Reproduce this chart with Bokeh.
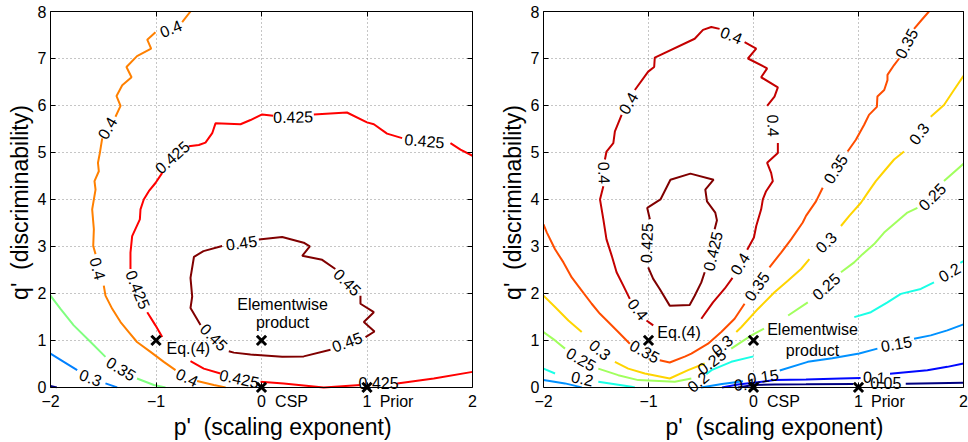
import math
from bokeh.plotting import figure
from bokeh.layouts import row
from bokeh.models import Range1d, LinearAxis, FixedTicker, Label
from bokeh.embed import file_html
from bokeh.resources import INLINE
from bokeh.core.properties import value

nan = float("nan")
FONT = "Liberation Sans"
NB = "\u00a0"

x_ticks = [-2, -1, 0, 1, 2]
y_ticks = [0, 1, 2, 3, 4, 5, 6, 7, 8]
# tick labels, plus the two names written beside ticks 0 and 1
x_label_pos = [-2, -1, 0, 0.285, 1, 1.28, 2]
x_label_text = {-2: "\u22122", -1: "\u22121", 0: "0", 0.285: "CSP", 1: "1", 1.28: "Prior", 2: "2"}
# axis titles
x_title_pos = 0.2
x_title = "p'" + NB + " (scaling exponent)"
y_title_span = (0.78, 8.0)   # title is centred on this span (q' = 4.39)
y_title = "q'" + NB + " (discriminability)"

# ---------------- left panel contours (NaN = gap for label / hidden part) -------------
L_045_x = [-0.025, 0.196, 0.40, 0.458, 0.386, 0.575, 0.70, nan, 0.938, 0.938, 1.065, 0.97, 1.071, 0.986, nan,
           0.654, 0.40, 0.196, -0.104, -0.262, -0.31, nan, -0.578, -0.673, -0.657, -0.673, -0.64, -0.55, -0.373]
L_045_y = [3.15, 3.20, 3.08, 3.0, 2.80, 2.715, 2.52, nan, 1.953, 1.78, 1.60, 1.39, 1.19, 1.07, nan,
           0.80, 0.66, 0.65, 0.70, 0.74, 0.77, nan, 1.33, 1.69, 1.93, 2.33, 2.78, 2.90, 3.01]

L_0425_x = [2.0, 1.886, 1.791, nan, 1.333, 1.19, 1.065, 1.0, 0.81, 0.496, nan, 0.11, 0.006, -0.104, -0.199,
            -0.436, -0.467, -0.531, -0.594, -0.689, nan, -0.941, -1.005, -1.068, -1.116, -1.147, -1.153, -1.226,
            -1.242, -1.242, nan, -1.083, -1.005, -0.941, nan, -0.673, -0.547, -0.389, nan, -0.009, 0.21, 0.59,
            0.938, nan, 1.286, 1.633, 2.0]
L_0425_y = [4.93, 5.06, 5.2, nan, 5.305, 5.40, 5.60, 5.64, 5.85, 5.81, nan, 5.78, 5.81, 5.69, 5.60,
            5.62, 5.41, 5.21, 5.16, 5.13, nan, 4.565, 4.35, 4.175, 4.0, 3.79, 3.577, 3.22,
            2.87, 2.52, nan, 1.60, 1.32, 1.07, nan, 0.557, 0.40, 0.296, nan, 0.12, 0.085, 0.0,
            0.05, nan, 0.085, 0.19, 0.33]

L_040_x = [-0.673, -0.752, nan, -1.005, -1.083, -1.046, -1.18, -1.28, -1.232, -1.32, -1.374, -1.336, -1.384, nan,
           -1.51, -1.532, -1.55, -1.542, -1.583, -1.573, -1.605, -1.589, -1.595, -1.573, nan, -1.495, -1.479,
           -1.415, -1.336, -1.258, -1.18, -1.052, -0.926, -0.815, nan, -0.61, -0.452, -0.34]
L_040_y = [8.0, 7.775, nan, 7.56, 7.40, 7.21, 7.05, 6.82, 6.60, 6.43, 6.20, 5.99, 5.76, nan,
           5.30, 4.99, 4.78, 4.60, 4.39, 4.21, 3.79, 3.365, 3.01, 2.836, nan, 2.165, 1.953,
           1.672, 1.39, 1.178, 0.966, 0.755, 0.544, 0.367, nan, 0.134, 0.05, 0.0]

L_035_x = [-2.0, -1.905, -1.78, -1.62, -1.479, nan, -1.18, -1.02, -0.91]
L_035_y = [1.953, 1.67, 1.32, 0.966, 0.65, nan, 0.19, 0.05, 0.0]

L_030_x = [-2.0, -1.874, -1.747, nan, -1.479, -1.368]
L_030_y = [0.72, 0.544, 0.367, nan, 0.085, 0.0]

L_025_x = [-2.0, -1.94]
L_025_y = [0.03, 0.0]

left_levels = [
    (L_045_x, L_045_y, "#800000"),
    (L_0425_x, L_0425_y, "#FF0000"),
    (L_040_x, L_040_y, "#FF8000"),
    (L_035_x, L_035_y, "#80FF80"),
    (L_030_x, L_030_y, "#0080FF"),
    (L_025_x, L_025_y, "#000080"),
]

left_lab_text = ["0.4", "0.4", "0.4", "0.4", "0.35", "0.3", "0.425", "0.425", "0.425", "0.425", "0.425",
                 "0.425", "0.45", "0.45", "0.45", "0.45"]
left_lab_x = [-0.86, -1.463, -1.55, -0.704, -1.33, -1.62, -0.847, 0.30, 1.545, -1.17, -0.21, 1.11, -0.19,
              0.815, 0.81, -0.45]
left_lab_y = [7.64, 5.52, 2.53, 0.215, 0.40, 0.21, 4.90, 5.76, 5.25, 2.08, 0.19, 0.085, 3.08, 2.24, 0.97, 1.07]
left_lab_angle = [22, 60, -75, -25, -32, -20, 42, 1, -5, -68, -12, 0, 8, -45, 20, -45]

# ---------------- right panel contours -------------
R_0425_x = [-0.987, -1.012, -0.886, -0.791, -0.601, -0.38, -0.459, -0.443, -0.364, -0.348, -0.37, nan,
            -0.465, -0.497, -0.56, -0.608, -0.798, -0.893, -0.955, -1.003]
R_0425_y = [3.577, 3.82, 4.0, 4.42, 4.55, 4.42, 4.21, 3.96, 3.72, 3.555, 3.365, nan,
            2.45, 2.235, 1.95, 1.755, 1.74, 2.095, 2.31, 2.555]

R_040_x = [-0.955, -1.019, nan, -1.178, -1.24, -1.304, -1.35, -1.40, -1.43, -1.462, -1.43, nan, -1.415, -1.40,
           -1.335, -1.32, -1.256, nan, -1.13, -1.003, -0.946, -0.94, -0.56, -0.481, -0.402, -0.323, nan,
           -0.085, 0.026, -0.053, 0.13, 0.073, 0.232, 0.20, 0.13, nan, 0.232, 0.232, 0.13, 0.168, 0.184, 0.12,
           0.089, 0.073, 0.026, 0.004, -0.06, nan, -0.20, -0.275, -0.386, -0.497]
R_040_y = [1.32, 1.425, nan, 1.884, 2.165, 2.45, 2.80, 3.15, 3.577, 4.0, 4.28, nan, 4.85, 5.02,
           5.20, 5.45, 5.80, nan, 6.33, 6.72, 6.82, 7.02, 7.42, 7.61, 7.67, 7.63, nan,
           7.35, 7.21, 7.0, 6.79, 6.60, 6.385, 6.19, 5.99, nan, 5.2, 4.99, 4.78, 4.565, 4.39, 4.175,
           4.0, 3.79, 3.435, 3.19, 2.93, nan, 2.33, 2.10, 1.81, 1.46]

R_035_x = [-2.0, -1.969, -1.89, -1.81, -1.731, -1.636, -1.541, -1.462, -1.383, -1.288, -1.178, nan, -0.893,
           -0.798, -0.649, -0.592, -0.433, -0.307, -0.18, -0.085, nan, 0.152, 0.263, 0.358, 0.469, 0.50, 0.595,
           0.659, nan, 0.896, 0.975, 1.054, 1.10, 1.175, 1.18, 1.245, 1.276, 1.276, 1.339, 1.387, nan, 1.529,
           1.609, 1.671]
R_035_y = [3.47, 3.30, 2.94, 2.66, 2.34, 2.06, 1.78, 1.566, 1.39, 1.178, 0.93, nan, 0.578,
           0.53, 0.66, 0.72, 0.93, 1.178, 1.46, 1.78, nan, 2.555, 2.87, 3.15, 3.51, 3.65, 3.96,
           4.25, nan, 5.02, 5.27, 5.59, 5.80, 5.97, 6.19, 6.33, 6.54, 6.65, 6.86, 7.0, nan, 7.63,
           7.84, 8.0]

R_030_x = [-2.0, -1.89, -1.763, -1.636, nan, -1.32, -1.193, -1.035, -0.798, -0.623, -0.465, nan, -0.164,
           -0.117, 0.042, 0.20, 0.327, 0.453, 0.532, nan, 0.833, 0.912, 1.023, 1.087, 1.165, 1.244, 1.339,
           1.434, nan, 1.688, 1.814, 1.909, 2.0]
R_030_y = [1.953, 1.71, 1.425, 1.178, nan, 0.544, 0.40, 0.296, 0.19, 0.367, 0.508, nan, 1.178,
           1.28, 1.67, 2.025, 2.27, 2.52, 2.73, nan, 3.435, 3.65, 3.93, 4.14, 4.39, 4.60, 4.85,
           5.02, nan, 5.76, 6.01, 6.33, 6.63]

R_025_x = [-2.0, -1.89, -1.795, nan, -1.478, -1.288, -1.098, -0.75, -0.592, nan, -0.212, -0.02, 0.10, nan,
           0.33, 0.517, nan, 0.833, 0.959, 1.039, 1.149, 1.244, 1.355, 1.466, 1.561, nan, 1.814, 2.0]
R_025_y = [1.178, 1.0, 0.825, nan, 0.40, 0.26, 0.155, 0.12, 0.19, nan, 0.825, 1.107, 1.25, nan,
           1.53, 1.81, nan, 2.45, 2.66, 2.836, 3.05, 3.295, 3.51, 3.72, 3.82, nan, 4.39, 4.76]

R_020_x = [-2.0, -1.89, nan, -1.478, -1.161, -1.13, nan, -0.45, -0.40, -0.212, 0.0, nan, 0.96, 1.118, 1.276,
           1.403, 1.593, 1.719, nan, 1.97, 2.0]
R_020_y = [0.40, 0.296, nan, 0.12, 0.015, 0.0, nan, 0.28, 0.367, 0.544, 0.66, nan, 1.496, 1.60, 1.81,
           1.99, 2.095, 2.235, nan, 2.65, 2.69]

R_015_x = [-2.0, -1.795, -1.636, nan, -0.50, -0.30, -0.10, nan, 0.25, 0.517, 0.75, 1.007, 1.18, nan, 1.529,
           1.688, 1.846, 2.0]
R_015_y = [0.155, 0.085, 0.0, nan, 0.0, 0.07, 0.13, nan, 0.36, 0.544, 0.62, 0.72, 0.825, nan, 1.037,
           1.107, 1.213, 1.34]

R_010_x = [-0.30, -0.15, 0.0, 0.2, 0.5, 0.833, 1.02, nan, 1.30, 1.656, 1.846, 2.0]
R_010_y = [0.0, 0.06, 0.10, 0.155, 0.17, 0.19, 0.20, nan, 0.29, 0.367, 0.437, 0.51]

R_005_x = [-0.15, 0.0, 0.2, 0.5, 0.95, nan, 1.45, 2.0]
R_005_y = [0.0, 0.05, 0.063, 0.065, 0.07, nan, 0.075, 0.10]

right_levels = [
    (R_0425_x, R_0425_y, "#800000"),
    (R_040_x, R_040_y, "#C40000"),
    (R_035_x, R_035_y, "#FF4D00"),
    (R_030_x, R_030_y, "#FFD400"),
    (R_025_x, R_025_y, "#A1FF5E"),
    (R_020_x, R_020_y, "#1AFFE6"),
    (R_015_x, R_015_y, "#0091FF"),
    (R_010_x, R_010_y, "#0008FF"),
    (R_005_x, R_005_y, "#000080"),
]

right_lab_text = ["0.4", "0.4", "0.4", "0.4", "0.4", "0.4", "0.425", "0.425", "0.35", "0.35", "0.35", "0.35",
                  "0.3", "0.3", "0.3", "0.3", "0.25", "0.25", "0.25", "0.25", "0.2", "0.2", "0.2",
                  "0.15", "0.15", "0.1", "0.05", "0.1"]
right_lab_x = [-0.21, -1.193, -1.42, -1.10, 0.19, -0.13, -1.02, -0.39, -1.035, 0.03, 0.78, 1.455,
               -1.46, -0.30, 0.69, 1.575, -1.64, -0.40, 0.69, 1.70, -1.63, -0.53, 1.865,
               0.09, 1.36, 1.15, 1.26, -0.08]
right_lab_y = [7.50, 6.05, 4.565, 1.66, 5.57, 2.63, 3.07, 2.90, 0.77, 2.15, 4.65, 7.32,
               0.80, 0.90, 3.09, 5.40, 0.60, 0.55, 2.15, 4.06, 0.19, 0.12, 2.45,
               0.23, 0.93, 0.22, 0.09, 0.07]
right_lab_angle = [-22, 60, -88, -52, -88, 58, 88, 77, -29, 55, 58, 63,
                   -40, 40, 45, 53, -30, 37, 42, 45, -12, 40, 30,
                   8, 10, -3, 0, 3]

# markers (Eq.(4), Elementwise product, CSP, Prior)
mark_x = [-1, 0, 0, 1]
mark_y = [1, 1, 0, 0]

# annotation positions
left_eq = (-0.90, 0.825)
left_elem = (0.20, 1.756, 1.376)
right_eq = (-0.917, 1.175)
right_elem = (0.562, 1.228, 0.79)

Y_LOW = -0.13   # small strip below q'=0 so the markers on the axis are not cut


def make_panel(levels, lab_x, lab_y, lab_text, lab_angle, eq, elem, width, border_left, border_right):
    p = figure(width=width, height=442, output_backend="svg", toolbar_location=None,
               x_range=Range1d(-2, 2), y_range=Range1d(Y_LOW, 8),
               min_border_left=border_left, min_border_right=border_right, min_border_top=11,
               min_border_bottom=47,
               background_fill_color="white", border_fill_color="white")
    p.outline_line_color = None

    # bottom axis line + inward ticks at q' = 0
    xa = p.xaxis[0]
    xa.ticker = FixedTicker(ticks=x_ticks)
    xa.fixed_location = 0
    xa.major_tick_in = 5
    xa.major_tick_out = 0
    xa.minor_tick_line_color = None
    xa.axis_line_color = "black"
    xa.major_tick_line_color = "black"
    xa.major_label_text_font_size = "0px"
    xa.major_label_standoff = 0

    # tick labels (incl. CSP / Prior)
    xl = LinearAxis(ticker=FixedTicker(ticks=x_label_pos), major_label_overrides=x_label_text,
                    axis_line_color=None, major_tick_line_color=None, minor_tick_line_color=None,
                    major_tick_in=0, major_tick_out=0, major_label_standoff=-1,
                    major_label_text_font=FONT, major_label_text_font_size="16px",
                    major_label_text_color="black")
    p.add_layout(xl, "below")
    # x title
    xt = LinearAxis(ticker=FixedTicker(ticks=[x_title_pos]), major_label_overrides={x_title_pos: x_title},
                    axis_line_color=None, major_tick_line_color=None, minor_tick_line_color=None,
                    major_tick_in=0, major_tick_out=0, major_label_standoff=1,
                    major_label_text_font=FONT, major_label_text_font_size="23px",
                    major_label_text_color="black")
    p.add_layout(xt, "below")

    ya = p.yaxis[0]
    ya.ticker = FixedTicker(ticks=y_ticks)
    ya.bounds = (0, 8)
    ya.major_tick_in = 5
    ya.major_tick_out = 0
    ya.minor_tick_line_color = None
    ya.axis_line_color = "black"
    ya.major_tick_line_color = "black"
    ya.major_label_text_font = FONT
    ya.major_label_text_font_size = "16px"
    ya.major_label_text_color = "black"
    ya.major_label_standoff = 4

    yt = LinearAxis(ticker=FixedTicker(ticks=[]), bounds=y_title_span,
                    axis_line_color=None, major_tick_line_color=None, minor_tick_line_color=None,
                    major_tick_in=0, major_tick_out=0, major_label_standoff=0,
                    major_label_text_font_size="0px",
                    axis_label=y_title, axis_label_standoff=2,
                    axis_label_text_font=FONT, axis_label_text_font_size="23px",
                    axis_label_text_font_style="normal", axis_label_text_color="black")
    p.add_layout(yt, "left")

    top = LinearAxis(ticker=FixedTicker(ticks=x_ticks), major_tick_in=5, major_tick_out=0,
                     major_label_text_font_size="0px", major_label_standoff=0,
                     minor_tick_line_color=None, axis_line_color="black")
    right = LinearAxis(ticker=FixedTicker(ticks=y_ticks), major_tick_in=5, major_tick_out=0,
                       major_label_text_font_size="0px", major_label_standoff=0,
                       minor_tick_line_color=None, axis_line_color="black", bounds=(0, 8))
    p.add_layout(top, "above")
    p.add_layout(right, "right")

    for g in (p.xgrid[0], p.ygrid[0]):
        g.grid_line_color = "#8c8c8c"
        g.grid_line_dash = "1 3"
        g.grid_line_width = 1
    p.xgrid[0].ticker = FixedTicker(ticks=x_ticks)
    p.ygrid[0].ticker = FixedTicker(ticks=y_ticks)
    if "cross_bounds" in p.xgrid[0].properties():
        p.xgrid[0].cross_bounds = (0, 8)

    for xs, ys, col in levels:
        p.line(xs, ys, line_color=col, line_width=2)

    p.text(x=lab_x, y=lab_y, text=lab_text, angle=lab_angle, angle_units="deg",
           text_font=value(FONT), text_font_size="16px", text_align="center",
           text_baseline="middle", text_color="black")

    p.scatter(x=mark_x, y=mark_y, marker="x", size=13, line_width=3, line_color="black")

    p.add_layout(Label(x=eq[0], y=eq[1], text="Eq.(4)", text_align="left", text_baseline="middle",
                       text_font=FONT, text_font_size="16px", text_color="black"))
    p.add_layout(Label(x=elem[0], y=elem[1], text="Elementwise", text_align="center",
                       text_baseline="middle", text_font=FONT, text_font_size="16px", text_color="black"))
    p.add_layout(Label(x=elem[0], y=elem[2], text="product", text_align="center",
                       text_baseline="middle", text_font=FONT, text_font_size="16px", text_color="black"))
    return p


p1 = make_panel(left_levels, left_lab_x, left_lab_y, left_lab_text, left_lab_angle,
                left_eq, left_elem, 496, 50, 24)
p2 = make_panel(right_levels, right_lab_x, right_lab_y, right_lab_text, right_lab_angle,
                right_eq, right_elem, 472, 46, 5)

layout = row(p1, p2)
open("out.html", "w").write(file_html(layout, INLINE))
